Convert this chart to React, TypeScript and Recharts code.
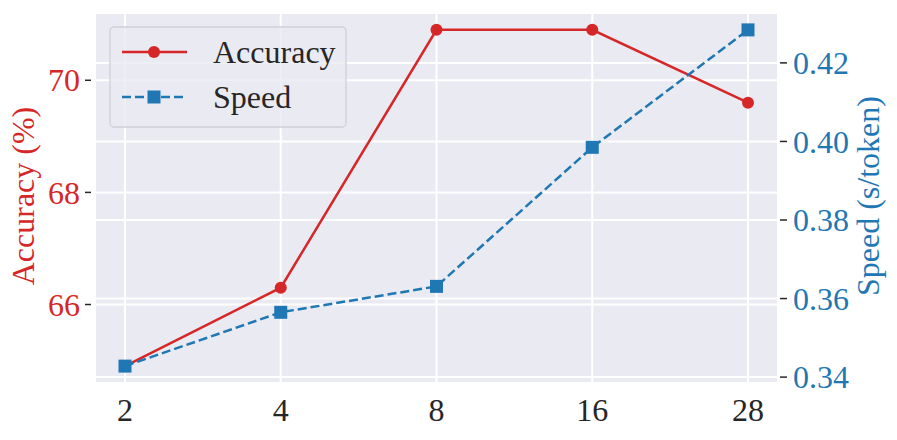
import { LineChart, Line, XAxis, YAxis, CartesianGrid } from 'recharts';

const xLabels = ['2', '4', '8', '16', '28'];
const accuracy = [64.9, 66.3, 70.9, 70.9, 69.6];
const speed = [0.3428, 0.3565, 0.3631, 0.3985, 0.4284];
const accTicks = [66, 68, 70];
const speedTicks = [0.34, 0.36, 0.38, 0.4, 0.42];
const seriesNames = ['Accuracy', 'Speed'];

const RED = '#d62728';
const BLUE = '#1f77b4';
const DARK = '#262626';
const FONT = '"Liberation Serif", "Times New Roman", serif';

const data = xLabels.map((x, i) => ({ x, accuracy: accuracy[i], speed: speed[i] }));

function LeftTick({ x, y, payload }: any) {
  return (
    <g>
      <line x1={x - 10} x2={x - 4} y1={y} y2={y} stroke={DARK} strokeWidth={1.5} />
      <text x={x - 15} y={y} dy="0.35em" textAnchor="end" fill={RED} fontSize={32} fontFamily={FONT}>
        {payload.value}
      </text>
    </g>
  );
}

function RightTick({ x, y, payload }: any) {
  return (
    <g>
      <line x1={x + 2} x2={x + 9} y1={y} y2={y} stroke={DARK} strokeWidth={1.5} />
      <text x={x + 15} y={y} dy="0.35em" textAnchor="start" fill={BLUE} fontSize={32} fontFamily={FONT}>
        {Number(payload.value).toFixed(2)}
      </text>
    </g>
  );
}

function BottomTick({ x, y, payload }: any) {
  return (
    <text x={x} y={y + 38} textAnchor="middle" fill={DARK} fontSize={32} fontFamily={FONT}>
      {payload.value}
    </text>
  );
}

function Square({ cx, cy, fill, size = 13 }: any) {
  if (cx == null || cy == null) return null;
  return <rect x={cx - size / 2} y={cy - size / 2} width={size} height={size} fill={fill} />;
}

function AxisTitle({ viewBox, value, color, offset }: any) {
  const cx = viewBox.x + offset;
  const cy = viewBox.y + viewBox.height / 2 - 2;
  return (
    <text
      x={cx}
      y={cy}
      dy="0.33em"
      transform={`rotate(-90, ${cx}, ${cy})`}
      textAnchor="middle"
      fill={color}
      fontSize={32}
      fontFamily={FONT}
    >
      {value}
    </text>
  );
}

function LegendBox() {
  return (
    <g>
      <rect x={110} y={27} width={236} height={100} rx={4} fill="#eaeaf2" fillOpacity={0.8} stroke="#cfcfd6" strokeWidth={1.3} />
      <line x1={122} x2={187} y1={52} y2={52} stroke={RED} strokeWidth={2.5} />
      <circle cx={154} cy={52} r={6} fill={RED} />
      <text x={213} y={52} dy="0.33em" fill={DARK} fontSize={32} fontFamily={FONT}>
        {seriesNames[0]}
      </text>
      <line x1={122} x2={187} y1={97} y2={97} stroke={BLUE} strokeWidth={2.5} strokeDasharray="9 4" />
      <Square cx={154} cy={97} fill={BLUE} />
      <text x={213} y={97} dy="0.33em" fill={DARK} fontSize={32} fontFamily={FONT}>
        {seriesNames[1]}
      </text>
    </g>
  );
}

export default function App() {
  return (
    <div style={{ position: 'absolute', left: 0, top: 0, background: '#fff' }}>
      <LineChart width={897} height={440} data={data} margin={{ top: 13, right: 0, bottom: 0, left: 0 }}>
        <CartesianGrid yAxisId="left" fill="#eaeaf2" stroke="#ffffff" strokeWidth={2} />
        <XAxis
          dataKey="x"
          type="category"
          padding={{ left: 30, right: 30 }}
          axisLine={false}
          tickLine={false}
          tickSize={0}
          tickMargin={0}
          height={57}
          tick={BottomTick}
          interval={0}
        />
        <YAxis
          yAxisId="left"
          orientation="left"
          type="number"
          domain={[64.6, 71.2]}
          ticks={accTicks}
          width={95}
          axisLine={false}
          tickLine={false}
          tickSize={0}
          tickMargin={0}
          tick={LeftTick}
          label={{ value: 'Accuracy (%)', content: (p: any) => <AxisTitle {...p} value="Accuracy (%)" color={RED} offset={23} /> }}
        />
        <YAxis
          yAxisId="right"
          orientation="right"
          type="number"
          domain={[0.3385, 0.4327]}
          ticks={speedTicks}
          width={119}
          axisLine={false}
          tickLine={false}
          tickSize={0}
          tickMargin={0}
          tick={RightTick}
          label={{ value: 'Speed (s/token)', content: (p: any) => <AxisTitle {...p} value="Speed (s/token)" color={BLUE} offset={90} /> }}
        />
        <Line
          yAxisId="left"
          dataKey="accuracy"
          name={seriesNames[0]}
          stroke={RED}
          strokeWidth={2.5}
          dot={{ r: 6, fill: RED, stroke: 'none' }}
          activeDot={false}
          isAnimationActive={false}
        />
        <LegendBox />
        <CartesianGrid yAxisId="right" vertical={false} fill="none" stroke="#ffffff" strokeWidth={2} />
        <Line
          yAxisId="right"
          dataKey="speed"
          name={seriesNames[1]}
          stroke={BLUE}
          strokeWidth={2.5}
          strokeDasharray="9 4"
          dot={(p: any) => <Square key={p.index} cx={p.cx} cy={p.cy} fill={BLUE} />}
          activeDot={false}
          isAnimationActive={false}
        />
      </LineChart>
    </div>
  );
}
